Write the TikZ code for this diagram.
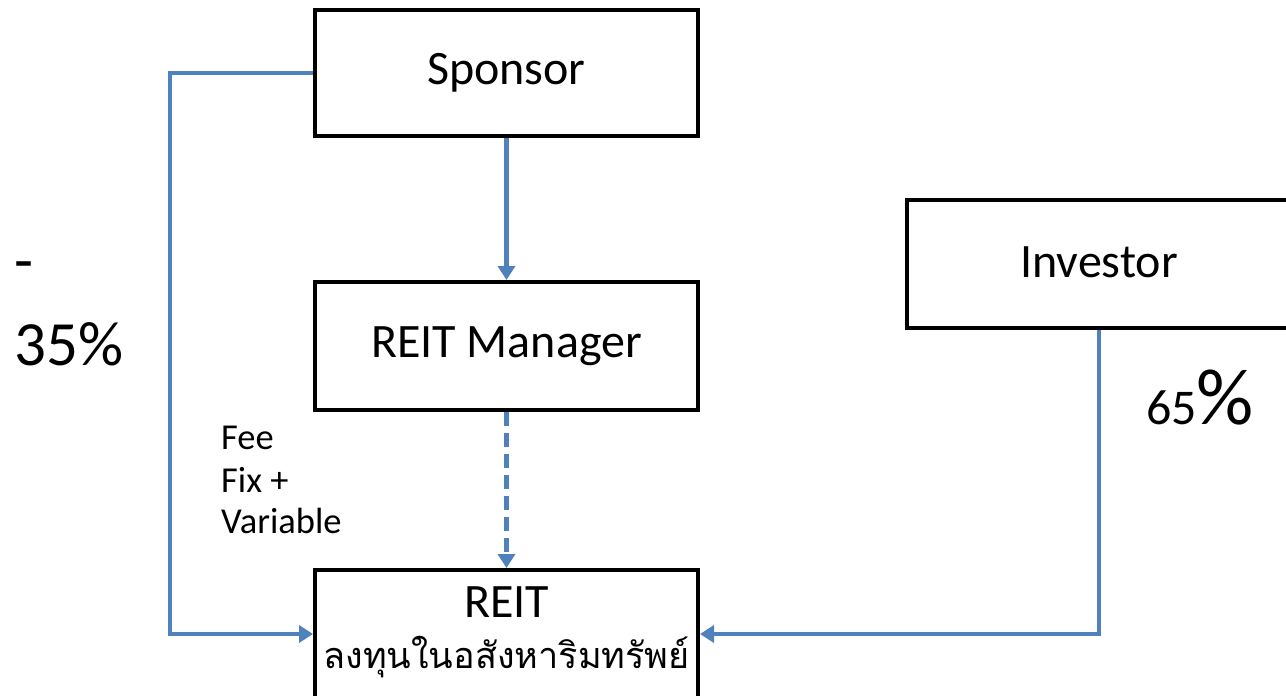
\documentclass[tikz,border=0pt]{standalone}
\usepackage{fontspec}
\setmainfont{Carlito}
\newfontfamily\thaifont[Script=Thai]{Loma}
\usetikzlibrary{arrows.meta,positioning}
\definecolor{flowblue}{HTML}{4F81BD}
\tikzset{
  box/.style={draw=black, line width=4pt, fill=white, inner sep=0pt},
  flow/.style={draw=flowblue, line width=4.5pt, -{Triangle[width=17pt,length=14pt]}},
  lbl/.style={inner sep=0pt, font=\fontsize{48}{56}\selectfont},
  small/.style={inner sep=0pt, anchor=west, font=\fontsize{36.5}{42}\selectfont},
}
\begin{document}
\begin{tikzpicture}[x=1pt, y=-1pt]
\useasboundingbox (0,0) rectangle (1286,696);
\clip (0,0) rectangle (1286,696);

% boxes
\node[box, minimum width=383pt, minimum height=126pt] (spon) at (506.5,73) {};
\node[box, minimum width=383pt, minimum height=128pt] (mgr) at (506.5,346) {};
\node[box, minimum width=384pt, minimum height=128pt] (inv) at (1099,264) {};
\node[box, minimum width=383pt, minimum height=128pt] (reit) at (506.5,634) {};

% box texts
\node[lbl] (spontxt) at (spon.center) {Sponsor};
\node[lbl] (mgrtxt) at (mgr.center) {REIT Manager};
\node[lbl] (invtxt) at (1099,262) {Investor};
\node[lbl] (reittxt) at (506.5,602) {REIT};
\node[inner sep=0pt, font=\thaifont\fontsize{36}{42}\selectfont] (reitsub) at (506.5,657) {ลงทุนในอสังหาริมทรัพย์};

% connectors
\coordinate (lturn) at (170,73);
\coordinate (rturn) at (1099,634);
\draw[flow] (spon.west) -- (lturn) |- (reit.west);
\draw[flow] (spon.south) -- (mgr.north);
\draw[flow, dash pattern=on 14pt off 7pt] (mgr.south) -- (reit.north);
\draw[flow] (inv.south) -- (rturn) -- (reit.east);

% side labels
\node[inner sep=0pt, anchor=west, font=\fontsize{62}{70}\selectfont] (dash) at (14,272) {-};
\node[inner sep=0pt, anchor=west, font=\fontsize{63}{70}\selectfont] (left) at (14,344) {35\%};
\node[inner sep=0pt, anchor=base west] (right) at (1146,424)
  {\fontsize{50}{54}\selectfont 65\fontsize{80}{86}\selectfont\%};
\node[small] (fee) at (221,438) {Fee};
\node[small] (fix) at (221,480) {Fix +};
\node[small] (var) at (221,521) {Variable};
\end{tikzpicture}
\end{document}
